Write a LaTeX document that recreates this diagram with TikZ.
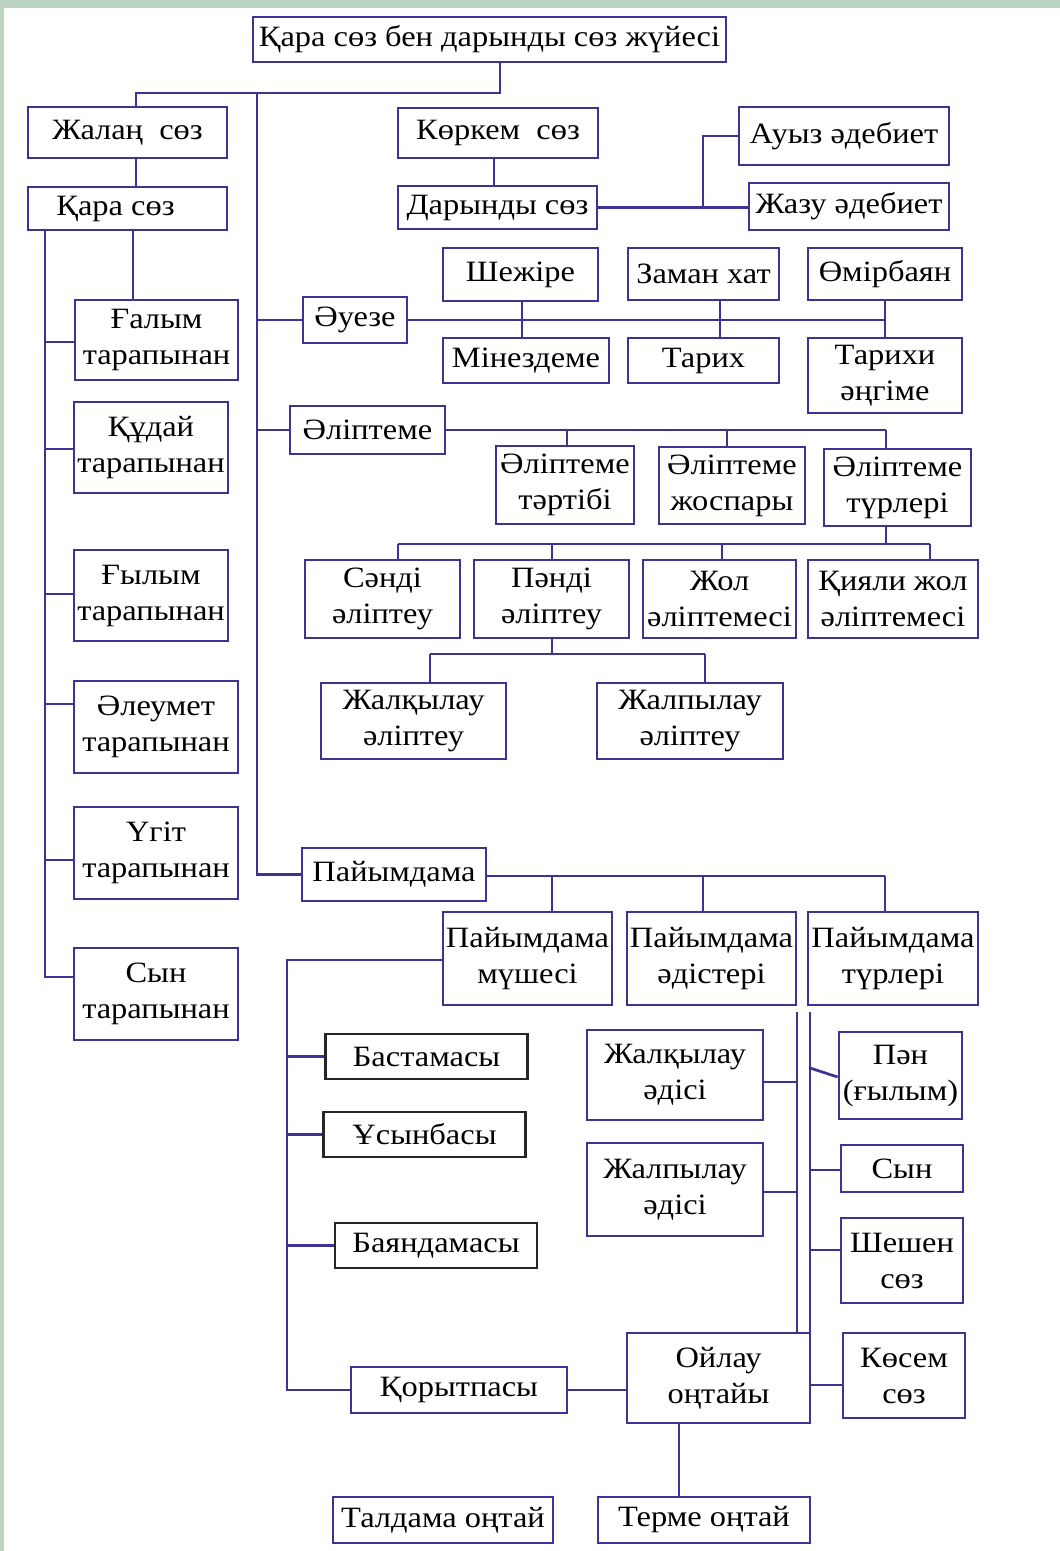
\documentclass[tikz,border=0pt]{standalone}
\usepackage{fontspec}
\setmainfont{Liberation Serif}[FakeStretch=1.1]
\usepackage{tikz}
\usetikzlibrary{positioning,calc}
\definecolor{navyline}{RGB}{62,50,146}
\definecolor{framegreen}{RGB}{188,211,194}

\begin{document}
\begin{tikzpicture}[x=1pt,y=-1pt,
  box/.style={draw=navyline,line width=2.7pt,fill=white,inner sep=0pt,align=center,
    font=\fontsize{29.5}{36}\selectfont},
  blackbox/.style={box,draw=black!85},
  link/.style={draw=navyline,line width=2.7pt},
  sz/.style 2 args={minimum width=#1pt,minimum height=#2pt}]
  \useasboundingbox (0,0) rectangle (1060,1551);
  \fill[framegreen] (0,0) rectangle (1060,1551);
  \fill[white] (4,8) rectangle (1060,1551);

  % boxes: name/centre x/centre y/width/height/text
  \foreach \n/\x/\y/\w/\h/\t in {
    top/489.5/39.5/473/45/{Қара сөз бен дарынды сөз жүйесі},
    jalan/127.5/132.5/199/51/{Жалаң~~сөз},
    karasoz/127.5/208.5/199/43/{Қара сөз\hspace*{24pt}},
    korkem/498/133/200/50/{Көркем~~сөз},
    daryndy/497.5/207.5/199/43/{Дарынды сөз},
    auyz/844/136/210/58/{Ауыз әдебиет},
    jazu/849/206.5/200/47/{Жазу әдебиет},
    galym/156.5/340/163/80/{Ғалым\\тарапынан},
    kudai/151/447.5/154/91/{Құдай\\тарапынан},
    gylym/151/595.5/154/91/{Ғылым\\тарапынан},
    aleumet/156/727/164/92/{Әлеумет\\тарапынан},
    ugit/156/853/164/92/{Үгіт\\тарапынан},
    syn/156/994/164/92/{Сын\\тарапынан},
    aueze/355/320/104/46/{Әуезе},
    shejire/520.5/274.5/155/53/{Шежіре},
    zaman/703.5/274/151/52/{Заман хат},
    omir/885/274/154/52/{Өмірбаян},
    minez/526/360.5/166/45/{Мінездеме},
    tarih/703.5/360.5/151/45/{Тарих},
    tarihi/885/375.5/154/75/{Тарихи\\әңгіме},
    alipteme/367.5/430/155/48/{Әліптеме},
    tartibi/565/485/138/78/{Әліптеме\\тәртібі},
    jospary/732/485.5/146/77/{Әліптеме\\жоспары},
    eturleri/897.5/487.5/147/77/{Әліптеме\\түрлері},
    sandi/382.5/599/155/78/{Сәнді\\әліптеу},
    pandi/551.5/599/155/78/{Пәнді\\әліптеу},
    jol/719.5/599/153/78/{Жол\\әліптемесі},
    kiyali/893/599/170/78/{Қияли жол\\әліптемесі},
    jalkel/413.5/721/185/76/{Жалқылау\\әліптеу},
    jalpel/690/721/186/76/{Жалпылау\\әліптеу},
    paiym/394/874.5/184/53/{Пайымдама},
    mushe/527.5/958.5/169/93/{Пайымдама\\мүшесі},
    adis/711.5/958.5/169/93/{Пайымдама\\әдістері},
    pturleri/893/958.5/170/93/{Пайымдама\\түрлері},
    koryt/459/1390/216/46/{Қорытпасы},
    jalkad/675/1075/176/90/{Жалқылау\\әдісі},
    jalpad/675/1189.5/176/93/{Жалпылау\\әдісі},
    oilau/718.5/1378/183/90/{Ойлау\\оңтайы},
    pan/900.5/1075.5/123/87/{Пән\\(ғылым)},
    synt/902/1168.5/122/47/{Сын},
    sheshen/902/1260.5/122/85/{Шешен\\сөз},
    kosem/904/1375.5/122/85/{Көсем\\сөз},
    talda/443/1520/220/46/{Талдама оңтай},
    terme/704/1520/212/46/{Терме оңтай}}
    \node[box,sz={\w}{\h}] (\n) at (\x,\y) {\t};
  \foreach \n/\x/\y/\t in {bastama/426.5/1056.5/Бастамасы,usyn/424.5/1134.5/Ұсынбасы,bayan/436/1245.5/Баяндамасы}
    \node[blackbox,sz={202}{45}] (\n) at (\x,\y) {\t};

  % title bus and main spine
  \coordinate (t0) at (500,93);
  \coordinate (t1) at (136,93);
  \coordinate (sp) at (257,93);
  \draw[link] (top.south -| t0) -- (t0) -- (t1) -- (t1 |- jalan.north);
  \draw[link] (jalan.south -| t1) -- (karasoz.north -| t1);
  \draw[link] (sp) |- (paiym.west);
  \foreach \n in {aueze,alipteme} \draw[link] (sp |- \n.west) -- (\n.west);
  \coordinate (k0) at (494,160);
  \draw[link] (korkem.south -| k0) -- (daryndy.north -| k0);
  \coordinate (d0) at (703,207.5);
  \draw[link] (daryndy.east) -- (jazu.west |- daryndy.east);
  \draw[link] (d0) |- (auyz.west);

  % left column
  \coordinate (l0) at (45,230);
  \coordinate (g0) at (133,230);
  \draw[link] (karasoz.south -| l0) |- (syn.west |- 0,977);
  \draw[link] (karasoz.south -| g0) -- (galym.north -| g0);
  \foreach \n/\y in {galym/342,kudai/449,gylym/594,aleumet/704,ugit/860}
    \draw[link] (l0 |- 0,\y) -- (\n.west |- 0,\y);

  % Әуезе
  \coordinate (ab) at (885,320);
  \draw[link] (aueze.east) -- (ab);
  \foreach \a/\b/\x in {shejire/minez/522,zaman/tarih/720,omir/tarihi/885}{
    \coordinate (\a-c) at (\x,320);
    \draw[link] (\a.south -| \a-c) -- (\b.north -| \a-c);
  }

  % Әліптеме
  \coordinate (eb) at (886,430);
  \draw[link] (alipteme.east) -- (eb);
  \foreach \n/\x in {tartibi/567,jospary/727,eturleri/886}{
    \coordinate (\n-in) at (\x,430);
    \draw[link] (\n-in) -- (\n-in |- \n.north);
  }
  \coordinate (tb) at (886,544);
  \coordinate (tl) at (398,544);
  \coordinate (tr) at (930,544);
  \draw[link] (eturleri.south -| tb) -- (tb);
  \draw[link] (tl) -- (tr);
  \foreach \n/\x in {sandi/398,pandi/552,jol/722,kiyali/930}{
    \coordinate (\n-in) at (\x,544);
    \draw[link] (\n-in) -- (\n-in |- \n.north);
  }
  \coordinate (pb) at (552,654);
  \draw[link] (pandi.south -| pb) -- (pb);
  \foreach \n/\x in {jalkel/430,jalpel/705}{
    \coordinate (\n-in) at (\x,654);
    \draw[link] (\n-in) -- (\n-in |- \n.north);
  }
  \draw[link] (jalkel-in) -- (jalpel-in);

  % Пайымдама
  \coordinate (yb) at (885,876);
  \draw[link] (paiym.east |- yb) -- (yb);
  \foreach \n/\x in {mushe/552,adis/703,pturleri/885}{
    \coordinate (\n-in) at (\x,876);
    \draw[link] (\n-in) -- (\n-in |- \n.north);
  }
  \coordinate (m0) at (287,960);
  \draw[link] (mushe.west |- m0) -- (m0) |- (koryt.west);
  \foreach \n in {bastama,usyn,bayan} \draw[link] (m0 |- \n.west) -- (\n.west);
  \draw[link] (koryt.east) -- (koryt.east -| oilau.west);

  \coordinate (a0) at (797,1012);
  \draw[link] (a0) -- (a0 |- oilau.north);
  \foreach \n/\y in {jalkad/1082,jalpad/1192} \draw[link] (\n.east |- 0,\y) -- (a0 |- 0,\y);
  \coordinate (r0) at (810,1012);
  \draw[link] (r0) -- (r0 |- oilau.north);
  \draw[link] (r0 |- 0,1068) -- (pan.west |- 0,1077);
  \foreach \n/\y in {synt/1170,sheshen/1250} \draw[link] (r0 |- 0,\y) -- (\n.west |- 0,\y);
  \draw[link] (oilau.east |- 0,1385) -- (kosem.west |- 0,1385);
  \coordinate (o0) at (679,1423);
  \draw[link] (oilau.south -| o0) -- (terme.north -| o0);
\end{tikzpicture}
\end{document}
